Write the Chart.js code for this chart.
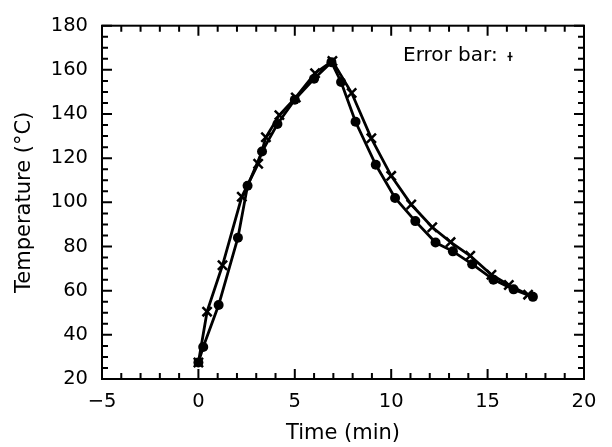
<!DOCTYPE html>
<html>
<head>
<meta charset="utf-8">
<script src="https://cdn.jsdelivr.net/npm/chart.js@4.4.0/dist/chart.umd.min.js"></script>
<style>
  html, body { margin: 0; padding: 0; background: #fff; }
  #wrap { width: 612px; height: 447px; }
</style>
</head>
<body>
<div id="wrap"><canvas id="myChart" width="612" height="447"></canvas></div>
<script>
// series with filled circles
let dotTimes = [0, 0.25, 1.05, 2.05, 2.55, 3.3, 4.1, 5.0, 6.0, 6.9, 7.4, 8.15, 9.2, 10.2, 11.25, 12.3, 13.2, 14.2, 15.3, 16.35, 17.35];
let dotTemps = [27.5, 34.5, 53.5, 84, 107.5, 123, 135.5, 146.5, 156, 163.5, 154.5, 136.5, 117, 102, 91.5, 81.8, 77.8, 72, 65, 60.6, 57.2];

// series with crosses
let crossTimes = [0, 0.45, 1.25, 2.25, 3.1, 3.5, 4.2, 5.05, 6.05, 6.95, 7.95, 8.97, 10.0, 11.04, 12.13, 13.08, 14.1, 15.2, 16.1, 17.1];
let crossTemps = [27.5, 50.5, 71.5, 102.5, 117.5, 129.5, 139.5, 147.5, 158.5, 164, 149.5, 129, 112, 99, 88.7, 82, 75.8, 67.2, 62.6, 58.2];

let xTicks = [-5, 0, 5, 10, 15, 20];
let yTicks = [20, 40, 60, 80, 100, 120, 140, 160, 180];

const titleFont = { family: "DejaVu Sans", size: 21 };
const tickFont = { family: "DejaVu Sans", size: 19.5 };

function toPoints(xs, ys) {
  return xs.map((x, i) => ({ x: x, y: ys[i] }));
}

// box round the plot with inward major/minor ticks on all sides
const frameTicks = {
  id: "frameTicks",
  afterDraw(chart) {
    const { ctx, chartArea: a, scales } = chart;
    const x = scales.x, y = scales.y;
    ctx.save();
    ctx.strokeStyle = "#000";
    ctx.lineWidth = 2;
    ctx.strokeRect(a.left, a.top, a.right - a.left, a.bottom - a.top);
    ctx.beginPath();
    for (let v = xTicks[0]; v <= xTicks[xTicks.length - 1]; v += 1) {
      const px = x.getPixelForValue(v);
      const len = xTicks.includes(v) ? 10 : 6;
      ctx.moveTo(px, a.bottom); ctx.lineTo(px, a.bottom - len);
      ctx.moveTo(px, a.top); ctx.lineTo(px, a.top + len);
    }
    for (let v = yTicks[0]; v <= yTicks[yTicks.length - 1]; v += 5) {
      const py = y.getPixelForValue(v);
      const len = yTicks.includes(v) ? 10 : 6;
      ctx.moveTo(a.left, py); ctx.lineTo(a.left + len, py);
      ctx.moveTo(a.right, py); ctx.lineTo(a.right - len, py);
    }
    ctx.stroke();

    // "Error bar" note
    ctx.fillStyle = "#000";
    ctx.font = "20px 'DejaVu Sans'";
    ctx.textBaseline = "middle";
    ctx.textAlign = "left";
    ctx.fillText("Error bar:", 403, 56);
    ctx.lineWidth = 1.6;
    ctx.beginPath();
    ctx.moveTo(510, 52); ctx.lineTo(510, 61);
    ctx.moveTo(507.5, 56.5); ctx.lineTo(512.5, 56.5);
    ctx.stroke();
    ctx.restore();
  }
};

const ctx = document.getElementById("myChart").getContext("2d");
const myChart = new Chart(ctx, {
  type: "line",
  data: {
    datasets: [
      {
        label: "dots",
        data: toPoints(dotTimes, dotTemps),
        borderColor: "#000",
        backgroundColor: "#000",
        borderWidth: 2.8,
        pointStyle: "circle",
        pointRadius: 5,
        pointBorderWidth: 0,
        tension: 0,
      },
      {
        label: "crosses",
        data: toPoints(crossTimes, crossTemps),
        borderColor: "#000",
        backgroundColor: "#000",
        borderWidth: 2.8,
        pointStyle: "crossRot",
        pointRadius: 6.5,
        pointBorderWidth: 2.5,
        tension: 0,
      },
    ],
  },
  options: {
    responsive: false,
    animation: false,
    layout: { padding: { top: 17, right: 28, left: 0, bottom: 0 } },
    plugins: {
      legend: { display: false },
      tooltip: { enabled: false },
    },
    scales: {
      x: {
        type: "linear",
        min: -5,
        max: 20,
        afterBuildTicks: (s) => { s.ticks = xTicks.map((v) => ({ value: v })); },
        afterFit: (s) => { s.height = 68; },
        grid: { display: false, drawTicks: false },
        border: { display: false },
        ticks: {
          color: "#000",
          font: tickFont,
          padding: 11,
          maxRotation: 0,
          callback: (v) => (v < 0 ? "\u2212" + Math.abs(v) : String(v)),
        },
        title: {
          display: true,
          text: "Time (min)",
          color: "#000",
          font: titleFont,
          padding: { top: 0, bottom: 1 },
        },
      },
      y: {
        min: 20,
        max: 180,
        afterBuildTicks: (s) => { s.ticks = yTicks.map((v) => ({ value: v })); },
        afterFit: (s) => { s.width = 102; },
        grid: { display: false, drawTicks: false },
        border: { display: false },
        ticks: {
          color: "#000",
          font: tickFont,
          padding: 14,
        },
        title: {
          display: true,
          text: "Temperature (\u00B0C)",
          color: "#000",
          font: titleFont,
          padding: { top: 12, bottom: 0 },
        },
      },
    },
  },
  plugins: [frameTicks],
});
</script>
</body>
</html>
